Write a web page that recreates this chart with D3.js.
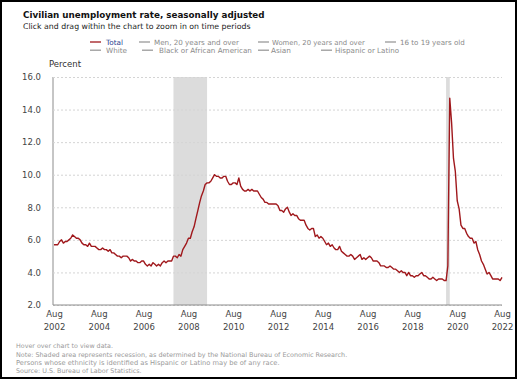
<!DOCTYPE html>
<html>
<head>
<meta charset="utf-8">
<script src="https://cdn.jsdelivr.net/npm/d3@7"></script>
<style>
  html, body { margin: 0; padding: 0; background: #fff; }
  svg { display: block; }
  text { font-family: "DejaVu Sans", Verdana, sans-serif; }
</style>
</head>
<body>
<svg id="chart" width="517" height="379"></svg>
<script>
// ---------------- DATA ----------------
const startMonth = "2002-08";
// Monthly civilian unemployment rate, Aug 2002 .. Aug 2022 (percent)
const unemploymentRate = [
  5.7, 5.7, 5.7, 5.9, 6.0,
  5.8, 5.9, 5.9, 6.0, 6.1, 6.3, 6.2, 6.1, 6.1, 6.0, 5.8, 5.7,
  5.7, 5.6, 5.8, 5.6, 5.6, 5.6, 5.5, 5.4, 5.4, 5.5, 5.4, 5.4,
  5.3, 5.4, 5.2, 5.2, 5.1, 5.0, 5.0, 4.9, 5.0, 5.0, 5.0, 4.9,
  4.7, 4.8, 4.7, 4.7, 4.6, 4.6, 4.7, 4.7, 4.5, 4.4, 4.5, 4.4,
  4.6, 4.5, 4.4, 4.5, 4.4, 4.6, 4.7, 4.6, 4.7, 4.7, 4.7, 5.0,
  5.0, 4.9, 5.1, 5.0, 5.4, 5.6, 5.8, 6.1, 6.1, 6.5, 6.8, 7.3,
  7.8, 8.3, 8.7, 9.0, 9.4, 9.5, 9.5, 9.6, 9.8, 10.0, 9.9, 9.9,
  9.8, 9.8, 9.9, 9.9, 9.6, 9.4, 9.4, 9.5, 9.5, 9.4, 9.8, 9.3,
  9.1, 9.0, 9.0, 9.1, 9.0, 9.1, 9.0, 9.0, 9.0, 8.8, 8.6, 8.5,
  8.3, 8.3, 8.2, 8.2, 8.2, 8.2, 8.2, 8.1, 7.8, 7.8, 7.7, 7.9,
  8.0, 7.7, 7.5, 7.6, 7.5, 7.5, 7.3, 7.2, 7.2, 7.2, 6.9, 6.7,
  6.6, 6.7, 6.7, 6.2, 6.3, 6.1, 6.2, 6.1, 5.9, 5.7, 5.8, 5.6,
  5.7, 5.5, 5.4, 5.4, 5.6, 5.3, 5.2, 5.1, 5.0, 5.0, 5.1, 5.0,
  4.8, 4.9, 5.0, 5.1, 4.8, 4.9, 4.8, 4.9, 5.0, 4.9, 4.7, 4.7,
  4.7, 4.6, 4.4, 4.4, 4.4, 4.3, 4.3, 4.4, 4.3, 4.2, 4.2, 4.1,
  4.0, 4.1, 4.0, 4.0, 3.8, 4.0, 3.8, 3.8, 3.7, 3.8, 3.8, 3.9,
  4.0, 3.8, 3.8, 3.7, 3.6, 3.6, 3.7, 3.6, 3.5, 3.6, 3.6, 3.6,
  3.5, 3.5, 4.4, 14.7, 13.2, 11.0, 10.2, 8.4, 7.9, 6.9, 6.7, 6.7,
  6.4, 6.2, 6.1, 6.1, 5.8, 5.9, 5.4, 5.1, 4.7, 4.5, 4.2, 3.9,
  4.0, 3.8, 3.6, 3.6, 3.6, 3.6, 3.5, 3.7
];
const recessionStarts = ["2007-12", "2020-02"];
const recessionEnds   = ["2009-06", "2020-04"];
const yTicks = [2, 4, 6, 8, 10, 12, 14, 16];
const xTickMonths = ["2002-08","2004-08","2006-08","2008-08","2010-08","2012-08","2014-08","2016-08","2018-08","2020-08","2022-08"];
const legendRow1 = ["Total", "Men, 20 years and over", "Women, 20 years and over", "16 to 19 years old"];
const legendRow2 = ["White", "Black or African American", "Asian", "Hispanic or Latino"];
const titleText = "Civilian unemployment rate, seasonally adjusted";
const subtitleText = "Click and drag within the chart to zoom in on time periods";
const yAxisTitle = "Percent";
const footnotes = [
  "Hover over chart to view data.",
  "Note: Shaded area represents recession, as determined by the National Bureau of Economic Research.",
  "Persons whose ethnicity is identified as Hispanic or Latino may be of any race.",
  "Source: U.S. Bureau of Labor Statistics."
];

// ---------------- CHART ----------------
const parseMonth = d3.timeParse("%Y-%m");
const start = parseMonth(startMonth);
const series = unemploymentRate.map((v, i) => ({ date: d3.timeMonth.offset(start, i), value: v }));

const svg = d3.select("#chart");
const W = 517, H = 379;
const plot = { left: 54, right: 502, top: 77, bottom: 305 };

// fit text to target width
function fit(sel, target) {
  const n = sel.node();
  const fs = parseFloat(sel.attr("font-size"));
  const len = n.getComputedTextLength();
  if (len > 0) sel.attr("font-size", (fs * target / len).toFixed(2));
  return sel;
}

const x = d3.scaleTime()
  .domain([parseMonth(xTickMonths[0]), parseMonth(xTickMonths[xTickMonths.length - 1])])
  .range([plot.left, plot.right]);
const y = d3.scaleLinear().domain([2, 16]).range([plot.bottom, plot.top]);

// title / subtitle
fit(svg.append("text").attr("x", 23).attr("y", 18).attr("font-size", 11)
  .attr("font-weight", "bold").attr("fill", "#111").text(titleText), 242);
fit(svg.append("text").attr("x", 23).attr("y", 29).attr("font-size", 9)
  .attr("fill", "#222").text(subtitleText), 228);

// legend
const legendLayout1 = [
  { lx: 90, tx: 106, w: 17 }, { lx: 139, tx: 154, w: 85 },
  { lx: 258, tx: 272, w: 93 }, { lx: 385, tx: 400, w: 65 }
];
const legendLayout2 = [
  { lx: 90, tx: 106, w: 21 }, { lx: 142, tx: 159, w: 93 },
  { lx: 258, tx: 271, w: 20 }, { lx: 321, tx: 335, w: 64 }
];
function drawLegendRow(labels, layout, yy) {
  labels.forEach((lab, i) => {
    const L = layout[i];
    const isTotal = lab === "Total";
    svg.append("line").attr("x1", L.lx).attr("x2", L.lx + 11)
      .attr("y1", yy - 2.5).attr("y2", yy - 2.5)
      .attr("stroke", isTotal ? "#a0181c" : "#9a9a9a").attr("stroke-width", 1.3);
    fit(svg.append("text").attr("x", L.tx).attr("y", yy).attr("font-size", 7.5)
      .attr("fill", isTotal ? "#2a3f8f" : "#8a8a8a").text(lab), L.w);
  });
}
drawLegendRow(legendRow1, legendLayout1, 44.5);
drawLegendRow(legendRow2, legendLayout2, 52.7);

// recession shading
svg.append("g").selectAll("rect")
  .data(recessionStarts.map((s, i) => ({ s: parseMonth(s), e: parseMonth(recessionEnds[i]) })))
  .join("rect")
  .attr("x", d => x(d.s)).attr("width", d => x(d.e) - x(d.s))
  .attr("y", plot.top).attr("height", plot.bottom - plot.top)
  .attr("fill", "#dcdcdc");

// gridlines + y axis
const yAxis = d3.axisLeft(y).tickValues(yTicks).tickFormat(d3.format(".1f"))
  .tickSize(-(plot.right - plot.left + 1)).tickPadding(12);
const gy = svg.append("g").attr("transform", `translate(${plot.left - 1},0)`).call(yAxis);
gy.select(".domain").attr("stroke", "#8c8c8c").attr("stroke-width", 1).attr("d", `M0,${plot.top}V${plot.bottom}`);
gy.selectAll(".tick line").attr("stroke", "#d4d4d4").attr("stroke-dasharray", "2,2");
gy.selectAll(".tick text").attr("font-size", 8.5).attr("fill", "#444")
  .attr("font-family", "'Liberation Sans', Arial, sans-serif");
svg.append("text").attr("x", 49).attr("y", 67).attr("font-size", 8.5).attr("fill", "#333")
  .attr("font-family", "'Liberation Sans', Arial, sans-serif").text(yAxisTitle);

// x axis
const xAxis = d3.axisBottom(x).tickValues(xTickMonths.map(parseMonth)).tickSize(0).tickFormat(() => "");
const gx = svg.append("g").attr("transform", `translate(0,${plot.bottom})`).call(xAxis);
gx.select(".domain").attr("stroke", "#8c8c8c").attr("d", `M${plot.left - 1},0H${plot.right}`);
gx.selectAll(".tick text").each(function(d) {
  const t = d3.select(this).attr("y", null).attr("dy", null)
    .attr("font-size", 8.5).attr("fill", "#444")
    .attr("font-family", "'Liberation Sans', Arial, sans-serif");
  t.append("tspan").attr("x", 0).attr("y", 12).text(d3.timeFormat("%b")(d));
  t.append("tspan").attr("x", 0).attr("y", 25).text(d3.timeFormat("%Y")(d));
});

// line
svg.append("path").datum(series)
  .attr("fill", "none").attr("stroke", "#a0181c").attr("stroke-width", 1.4)
  .attr("stroke-linejoin", "round")
  .attr("d", d3.line().x(d => x(d.date)).y(d => y(d.value)));

// footnotes
const fnWidths = [97, 332, 264, 126];
const fnY = [348, 356.5, 365, 373];
footnotes.forEach((f, i) => {
  fit(svg.append("text").attr("x", 16).attr("y", fnY[i]).attr("font-size", 7)
    .attr("fill", "#9a9a9a").text(f), fnWidths[i]);
});

// frame
svg.append("rect").attr("x", 1).attr("y", 1).attr("width", W - 2).attr("height", H - 2)
  .attr("fill", "none").attr("stroke", "#000").attr("stroke-width", 2);
</script>
</body>
</html>
